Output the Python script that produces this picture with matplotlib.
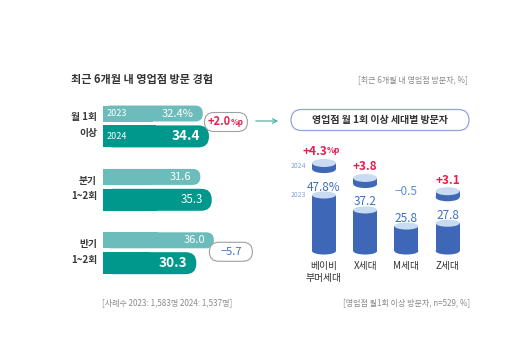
import matplotlib.pyplot as plt
from matplotlib.patches import FancyBboxPatch, Rectangle, Ellipse

plt.rcParams['font.family'] = ['Noto Sans CJK KR', 'DejaVu Sans']

# left panel: visit frequency, 2023 vs 2024
rows = ['월 1회\n이상', '분기\n1~2회', '반기\n1~2회']
v2023 = [32.4, 31.6, 36.0]
v2024 = [34.4, 35.3, 30.3]
badges = {0: ('+2.0', '%p'), 2: ('−5.7', '')}

# right panel: monthly visitors by generation
gens = ['베이비\n부머세대', 'X세대', 'M세대', 'Z세대']
gen2023 = [47.8, 37.2, 25.8, 27.8]
gen_diff = [4.3, 3.8, -0.5, 3.1]

LIGHT_TEAL = '#6cbcbc'
DARK_TEAL = '#00978c'
BODY = '#3f67b8'
TOP = '#c8dbf2'
RED = '#e61e50'
BLUE = '#3d6fc2'
GRAY = '#8a8a8a'
DARK = '#333333'

W, H = 512, 352
fig = plt.figure(figsize=(W / 100, H / 100), dpi=100)
bg = fig.add_axes([0, 0, 1, 1])
bg.set_xlim(0, W)
bg.set_ylim(H, 0)
bg.axis('off')


def px_axes(x0, y0, x1, y1):
    a = fig.add_axes([x0 / W, 1 - y1 / H, (x1 - x0) / W, (y1 - y0) / H])
    a.axis('off')
    a.patch.set_alpha(0)
    return a


def to_bg(ax, x, y):
    return bg.transData.inverted().transform(ax.transData.transform((x, y)))


def badge(cx, cy, w=43, h=19):
    bg.add_patch(FancyBboxPatch((cx - w / 2, cy - h / 2), w, h,
                                boxstyle=f'round,pad=0,rounding_size={h / 2}',
                                fc='white', ec='#a0a0a0', lw=0.8, zorder=5))


# ---- titles / notes
bg.text(71, 80, '최근 6개월 내 영업점 방문 경험', fontsize=8, fontweight='bold',
        color=DARK, ha='left', va='center')
bg.text(468, 80, '[최근 6개월 내 영업점 방문자, %]', fontsize=5.8, color=GRAY,
        ha='right', va='center')
bg.text(102, 303, '[사례수 2023: 1,583명 2024: 1,537명]', fontsize=5.8, color=GRAY,
        ha='left', va='center')
bg.text(470, 303, '[영업점 월1회 이상 방문자, n=529, %]', fontsize=5.8, color=GRAY,
        ha='right', va='center')

# ---- left bars
ax_l = px_axes(103, 90, 226.2, 290)
ax_l.set_xlim(0, 40)
ax_l.set_ylim(2.603, -0.552)
ys = list(range(len(rows)))
b23 = ax_l.barh([y - 0.181 for y in ys], v2023, height=0.252, color=LIGHT_TEAL)
b24 = ax_l.barh([y + 0.18 for y in ys], v2024, height=0.347, color=DARK_TEAL)

for bars, col in ((b23, LIGHT_TEAL), (b24, DARK_TEAL)):
    for p in bars:
        X0, Ya = to_bg(ax_l, p.get_x(), p.get_y())
        X1, Yb = to_bg(ax_l, p.get_x() + p.get_width(), p.get_y() + p.get_height())
        top, hh = min(Ya, Yb), abs(Yb - Ya)
        bg.add_patch(FancyBboxPatch((X0, top), X1 - X0, hh, fc=col, ec='none',
                                    boxstyle=f'round,pad=0,rounding_size={hh * 0.48}'))
        bg.add_patch(Rectangle((X0, top), (X1 - X0) / 2, hh, fc=col, ec='none'))
        p.set_visible(False)

for i, y in enumerate(ys):
    big = i in badges
    lab23 = f'{v2023[i]:.1f}' + ('%' if i == 0 else '')
    ax_l.annotate(lab23, (v2023[i], y - 0.181), xytext=(-9, 0), textcoords='offset pixels',
                  ha='right', va='center', color='white', fontsize=8)
    ax_l.annotate(f'{v2024[i]:.1f}', (v2024[i], y + 0.18), xytext=(-9, 0),
                  textcoords='offset pixels', ha='right', va='center', color='white',
                  fontsize=9.8 if big else 8.3, fontweight='bold' if big else 'normal')
    ax_l.annotate(rows[i], (0, y), xytext=(-6, 0), textcoords='offset pixels',
                  ha='right', va='center', multialignment='right', color='#3a3a3a',
                  fontsize=7, fontweight='bold', linespacing=1.7, annotation_clip=False)
    if i == 0:
        ax_l.annotate('2023', (0, y - 0.181), xytext=(4, 0), textcoords='offset pixels',
                      ha='left', va='center', color='white', fontsize=6.5)
        ax_l.annotate('2024', (0, y + 0.18), xytext=(4, 0), textcoords='offset pixels',
                      ha='left', va='center', color='white', fontsize=6.5)
    if big:
        cx, cy = to_bg(ax_l, max(v2023[i], v2024[i]), y)
        cx += 17
        badge(cx, cy - (3 if i == 0 else 0))
        num, unit = badges[i]
        c = RED if num.startswith('+') else BLUE
        if unit:
            bg.text(cx + 5, cy - 3, num, ha='right', va='center', color=c, fontsize=8,
                    fontweight='bold', zorder=6)
            bg.text(cx + 5, cy - 2, unit, ha='left', va='center', color=c, fontsize=5.8,
                    fontweight='bold', zorder=6)
        else:
            bg.text(cx, cy, num, ha='center', va='center', color=c, fontsize=8, zorder=6)

# arrow to the right panel
bg.annotate('', xy=(281, 121), xytext=(253, 121),
            arrowprops=dict(arrowstyle='->', color='#4fb4ad', lw=0.9, mutation_scale=8))

# ---- right panel header
bg.add_patch(FancyBboxPatch((291, 109.5), 178, 21, boxstyle='round,pad=0,rounding_size=10.5',
                            fc='white', ec='#8ea5d6', lw=0.9))
bg.text(380, 120, '영업점 월 1회 이상 세대별 방문자', fontsize=7.2, fontweight='bold',
        color=DARK, ha='center', va='center')

# ---- cylinders
BASE = 8.1
ax_r = px_axes(293, 140, 479, 260)
ax_r.set_xlim(-0.752, 3.762)
ax_r.set_ylim(1.72, 86.8)
xs = list(range(len(gens)))
bw = 0.58
eh = 5.0      # body ellipse height (data units)
deh = 5.7     # disc ellipse height
disc_gap = 22.7
disc_th = 4.3
ax_r.bar(xs, [v - BASE for v in gen2023], bottom=BASE, width=bw, color=BODY, zorder=2)
for x, v, d, g in zip(xs, gen2023, gen_diff, gens):
    ax_r.add_patch(Ellipse((x, BASE), bw, eh, fc=BODY, ec='none', zorder=2))
    ax_r.add_patch(Ellipse((x, v), bw, eh, fc=TOP, ec='none', zorder=3))
    ax_r.annotate(f'{v:.1f}' + ('%' if x == 0 else ''), (x, v), xytext=(0, 8),
                  textcoords='offset pixels', ha='center', va='center', color=BLUE,
                  fontsize=8.5, zorder=4)
    dtop = v + disc_gap
    if d > 0:
        ax_r.add_patch(Ellipse((x, dtop - disc_th), bw, deh, fc=BODY, ec='none', zorder=2))
        ax_r.add_patch(Rectangle((x - bw / 2, dtop - disc_th), bw, disc_th, fc=BODY,
                                 ec='none', zorder=2))
        ax_r.add_patch(Ellipse((x, dtop), bw, deh, fc=TOP, ec='none', zorder=3))
        if x == 0:
            ax_r.annotate(f'+{d:.1f}', (x, dtop), xytext=(3, 11), textcoords='offset pixels',
                          ha='right', va='center', color=RED, fontsize=8.5, fontweight='bold')
            ax_r.annotate('%p', (x, dtop), xytext=(3, 12), textcoords='offset pixels',
                          ha='left', va='center', color=RED, fontsize=6, fontweight='bold')
        else:
            ax_r.annotate(f'+{d:.1f}', (x, dtop), xytext=(0, 11), textcoords='offset pixels',
                          ha='center', va='center', color=RED, fontsize=8.5, fontweight='bold')
    else:
        ax_r.annotate(f'−{abs(d):.1f}', (x, dtop), xytext=(0, 3), textcoords='offset pixels',
                      ha='center', va='center', color='#5b8ed6', fontsize=8.5)
    ax_r.annotate(g, (x, BASE), xytext=(0, -10), textcoords='offset pixels', ha='center',
                  va='top', color=DARK, fontsize=7, linespacing=1.25, annotation_clip=False)

ax_r.annotate('2024', (0, gen2023[0] + disc_gap - disc_th / 2), xytext=(-26, 0),
              textcoords='offset pixels', ha='center', va='center', color='#8aa4d8', fontsize=5)
ax_r.annotate('2023', (0, gen2023[0]), xytext=(-26, 0),
              textcoords='offset pixels', ha='center', va='center', color='#8aa4d8', fontsize=5)

fig.savefig('out.png', dpi=100)
